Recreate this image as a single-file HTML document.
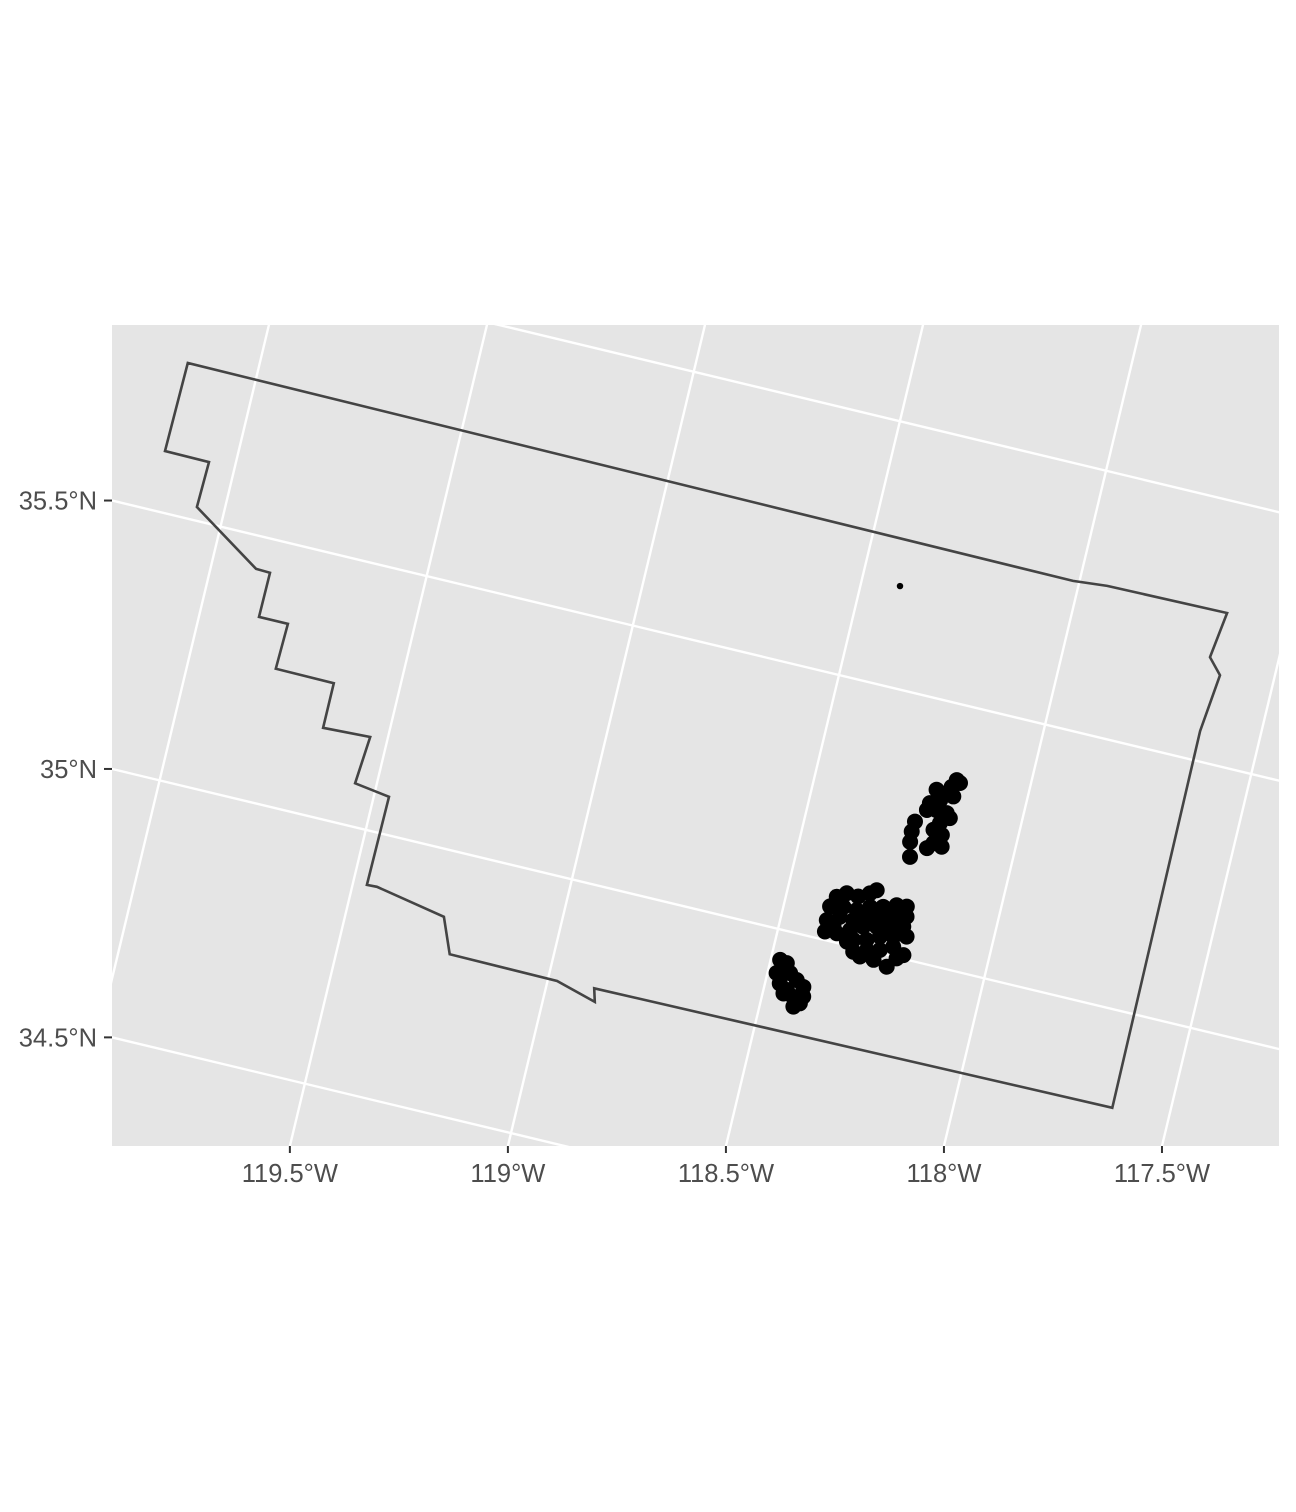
<!DOCTYPE html>
<html><head><meta charset="utf-8"><style>
html,body{margin:0;padding:0;background:#fff;overflow:hidden;width:1296px;height:1512px;}
svg{display:block;}
svg text{font-family:"Liberation Sans",Arial,sans-serif;font-size:25.5px;fill:#4d4d4d;}
</style></head><body>
<svg id="chart" width="1296" height="1512" viewBox="0 0 1296 1512" xmlns="http://www.w3.org/2000/svg">
<defs><clipPath id="clip"><rect x="112" y="325" width="1167" height="821"/></clipPath></defs>
<rect x="112" y="325" width="1167" height="821" fill="#e5e5e5"/>
<g id="grat" clip-path="url(#clip)"></g>
<g id="shape" clip-path="url(#clip)"></g>
<g id="pts" clip-path="url(#clip)"></g>
<g id="axes"></g>
</svg>
<script>
const lonTicks = [-119.5, -119, -118.5, -118, -117.5];
const lonLabels = ["119.5°W", "119°W", "118.5°W", "118°W", "117.5°W"];
const latTicks = [35.5, 35, 34.5];
const latLabels = ["35.5°N", "35°N", "34.5°N"];
const meridians = [-121, -120.5, -120, -119.5, -119, -118.5, -118, -117.5, -117];
const parallels = [34, 34.5, 35, 35.5, 36];
const borderLon = [-120.165,-120.169,-120.062,-120.065,-119.895,-119.861,-119.862,-119.792,-119.795,-119.654,-119.654,-119.541,-119.550,-119.465,-119.467,-119.443,-119.273,-119.239,-118.978,-118.880,-118.889,-117.635,-117.641,-117.626,-117.659,-117.644,-117.934,-118.015];
const borderLat = [35.790,35.616,35.615,35.526,35.437,35.436,35.349,35.349,35.260,35.259,35.171,35.175,35.082,35.072,34.898,34.899,34.873,34.806,34.804,34.782,34.807,34.816,35.557,35.670,35.699,35.789,35.786,35.780];
const ptLon = [-118.172,-118.180,-118.188,-118.199,-118.221,-118.224,-118.202,-118.177,-118.167,-118.187,-118.198,-118.176,-118.191,-118.203,-118.245,-118.247,-118.245,-118.237,-118.163,-118.213,-118.171,-118.170,
-118.383,-118.362,-118.334,-118.309,-118.295,-118.393,-118.362,-118.330,-118.301,-118.271,-118.241,-118.217,-118.393,-118.365,-118.332,-118.303,-118.273,-118.242,-118.212,-118.391,-118.363,-118.334,-118.306,-118.275,-118.244,-118.214,-118.321,-118.291,-118.262,-118.231,-118.201,-118.315,-118.285,-118.255,-118.226,-118.198,-118.297,-118.264,-118.230,-118.212,-118.374,-118.335,
-118.478,-118.461,-118.479,-118.448,-118.429,-118.466,-118.410,-118.446,-118.428,-118.409,-118.452,-118.405,-118.422];
const ptLat = [35.357,35.342,35.328,35.312,35.302,35.288,35.292,35.291,35.283,35.269,35.254,35.248,35.229,35.217,35.261,35.241,35.221,35.193,35.353,35.330,35.325,35.226,
35.086,35.097,35.096,35.107,35.116,35.065,35.070,35.070,35.082,35.088,35.097,35.099,35.038,35.050,35.050,35.062,35.068,35.074,35.080,35.016,35.018,35.030,35.042,35.048,35.054,35.060,35.013,35.019,35.031,35.037,35.043,34.991,35.000,35.006,35.018,35.007,34.985,34.985,34.978,34.998,35.029,35.007,
34.943,34.940,34.917,34.923,34.913,34.899,34.903,34.890,34.880,34.871,34.882,34.885,34.862];
const loneLon = [-118.409];
const loneLat = [35.693];

const C = 0.9724, S = 0.2334, KX = 424, KY = 522, X0 = 984.2, Y0 = 978.3;
function px(lon, lat){ return X0 + (lon+118)*KX*C + (lat-35)*KY*S; }
function py(lon, lat){ return Y0 + (lon+118)*KX*S - (lat-35)*KY*C; }
const NS = "http://www.w3.org/2000/svg";
function mk(tag, attrs, parent){ const e=document.createElementNS(NS,tag); for(const k in attrs) e.setAttribute(k,attrs[k]); parent.appendChild(e); return e; }

const grat = document.getElementById('grat');
meridians.forEach(m=>{
  const l = mk('line',{x1:px(m,33),y1:py(m,33),x2:px(m,37),y2:py(m,37),stroke:'#fff','stroke-width':2.4},grat);
  
  
});
parallels.forEach(p=>{
  const l = mk('line',{x1:px(-122,p),y1:py(-122,p),x2:px(-116,p),y2:py(-116,p),stroke:'#fff','stroke-width':2.4},grat);
  
  
});

const shape = document.getElementById('shape');
const d = borderLon.map((lo,i)=>(i?'L':'M')+px(lo,borderLat[i]).toFixed(1)+','+py(lo,borderLat[i]).toFixed(1)).join('')+'Z';
const outline = mk('path',{d:d,fill:'none',stroke:'#444','stroke-width':2.6,'stroke-linejoin':'miter'},shape);



const pts = document.getElementById('pts');
ptLon.forEach((lo,i)=>{
  const c = mk('circle',{cx:px(lo,ptLat[i]),cy:py(lo,ptLat[i]),r:8,fill:'#000'},pts);
  
  
});
loneLon.forEach((lo,i)=>{
  const c = mk('circle',{cx:px(lo,loneLat[i]),cy:py(lo,loneLat[i]),r:3.2,fill:'#000'},pts);
  
  
});

const axes = document.getElementById('axes');
lonTicks.forEach((m,i)=>{
  const t = (Y0 + (m+118)*KX*S - 1146)/(KY*C);
  const x = px(m, 35+t);
  const tk = mk('line',{x1:x,y1:1146,x2:x,y2:1153,stroke:'#333','stroke-width':2},axes);
  
  
  const tx = mk('text',{x:x,y:1182,'text-anchor':'middle'},axes);
  tx.textContent = lonLabels[i];
  
  
});
latTicks.forEach((p,i)=>{
  const a = (112 - X0 - (p-35)*KY*S)/(KX*C);
  const y = py(a-118, p);
  const tk = mk('line',{x1:104,y1:y,x2:112,y2:y,stroke:'#333','stroke-width':2},axes);
  
  
  const tx = mk('text',{x:97,y:y+9,'text-anchor':'end'},axes);
  tx.textContent = latLabels[i];
  
  
});
</script>
</body></html>
